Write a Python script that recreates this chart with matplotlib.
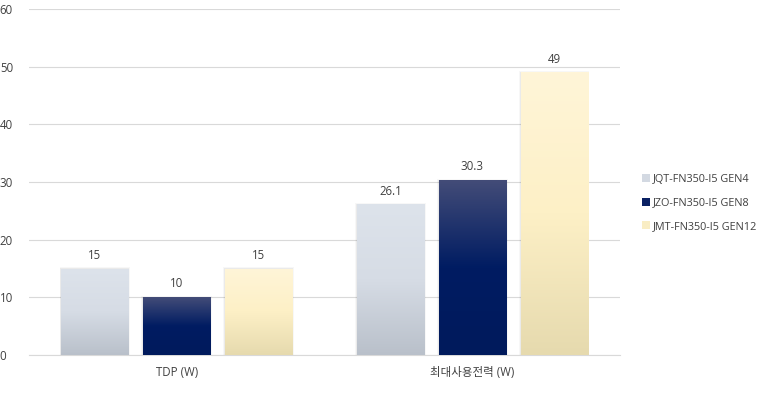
import matplotlib
matplotlib.use("Agg")
import matplotlib.pyplot as plt
import numpy as np
from matplotlib.colors import LinearSegmentedColormap
from matplotlib.patches import Rectangle

plt.rcParams['font.family'] = ['Open Sans', 'Noto Sans CJK KR', 'DejaVu Sans']

categories = ["TDP (W)", "최대사용전력 (W)"]
series_names = ["JQT-FN350-I5 GEN4", "JZO-FN350-I5 GEN8", "JMT-FN350-I5 GEN12"]
values = [
    [15, 26.1],
    [10, 30.3],
    [15, 49],
]
labels = [["15", "26.1"], ["10", "30.3"], ["15", "49"]]
yticks = [0, 10, 20, 30, 40, 50, 60]

# gradient stops (top -> bottom)
grads = [
    ["#dde3eb", "#d6dce5", "#b9c0ca"],
    ["#434c78", "#001c62", "#001a5c"],
    ["#fff5d8", "#fdf0c6", "#e6daae"],
]
legend_colors = ["#d3d9e2", "#0a2163", "#f9edc4"]

fig = plt.figure(figsize=(7.63, 3.94), dpi=100)
ax = fig.add_axes([29/763, 1 - 355/394, 591/763, 346/394])
ax.set_xlim(-0.5, 1.5)
ax.set_ylim(0, 60)

width = 0.227
offsets = [-0.277, 0, 0.277]
xs = np.arange(len(categories))

txtc = "#404040"
for si, (name, vals) in enumerate(zip(series_names, values)):
    cmap = LinearSegmentedColormap.from_list(f"g{si}", grads[si][::-1])
    for ci, v in enumerate(vals):
        x0 = xs[ci] + offsets[si] - width / 2
        # soft shadow
        for k, a in enumerate([0.05, 0.03]):
            sh = Rectangle((x0 - 0.003 * (k + 1), 0), width + 0.006 * (k + 1), v + 0.12 * (k + 1),
                           facecolor="black", alpha=a, edgecolor="none", zorder=2)
            ax.add_patch(sh)
        rect = Rectangle((x0, 0), width, v, facecolor="none", edgecolor="none", zorder=3)
        ax.add_patch(rect)
        grad = np.linspace(0, 1, 256).reshape(-1, 1)
        im = ax.imshow(grad, cmap=cmap, aspect="auto", extent=[x0, x0 + width, 0, v],
                       origin="lower", zorder=3, interpolation="bilinear")
        im.set_clip_path(rect)
        ax.text(xs[ci] + offsets[si], v + 1.2, labels[si][ci], ha="center", va="bottom",
                fontsize=8.3, color=txtc, zorder=4)

ax.set_yticks(yticks)
ax.set_yticklabels([str(t) for t in yticks])
ax.set_xticks(xs)
ax.set_xticklabels(categories)
ax.grid(axis="y", color="#d9d9d9", linewidth=0.8, zorder=0)
ax.set_axisbelow(True)
for s in ["top", "right", "left"]:
    ax.spines[s].set_visible(False)
ax.spines["bottom"].set_color("#d9d9d9")
ax.spines["bottom"].set_linewidth(0.8)
ax.tick_params(axis="both", length=0, labelsize=8.3, colors=txtc)
ax.tick_params(axis="x", pad=8)
for lab in ax.get_yticklabels():
    lab.set_horizontalalignment("left")
ax.tick_params(axis="y", pad=29 - 8)

handles = [Rectangle((0, 0), 1, 1, facecolor=c, edgecolor="none") for c in legend_colors]
fig.legend(handles, series_names, loc="center left", bbox_to_anchor=(638/763, 1 - 203/394),
           frameon=False, fontsize=7.8, handlelength=0.7, handleheight=0.7, handletextpad=0.25,
           labelspacing=1.15, labelcolor=txtc, borderaxespad=0)

fig.savefig("out.png", dpi=100)
